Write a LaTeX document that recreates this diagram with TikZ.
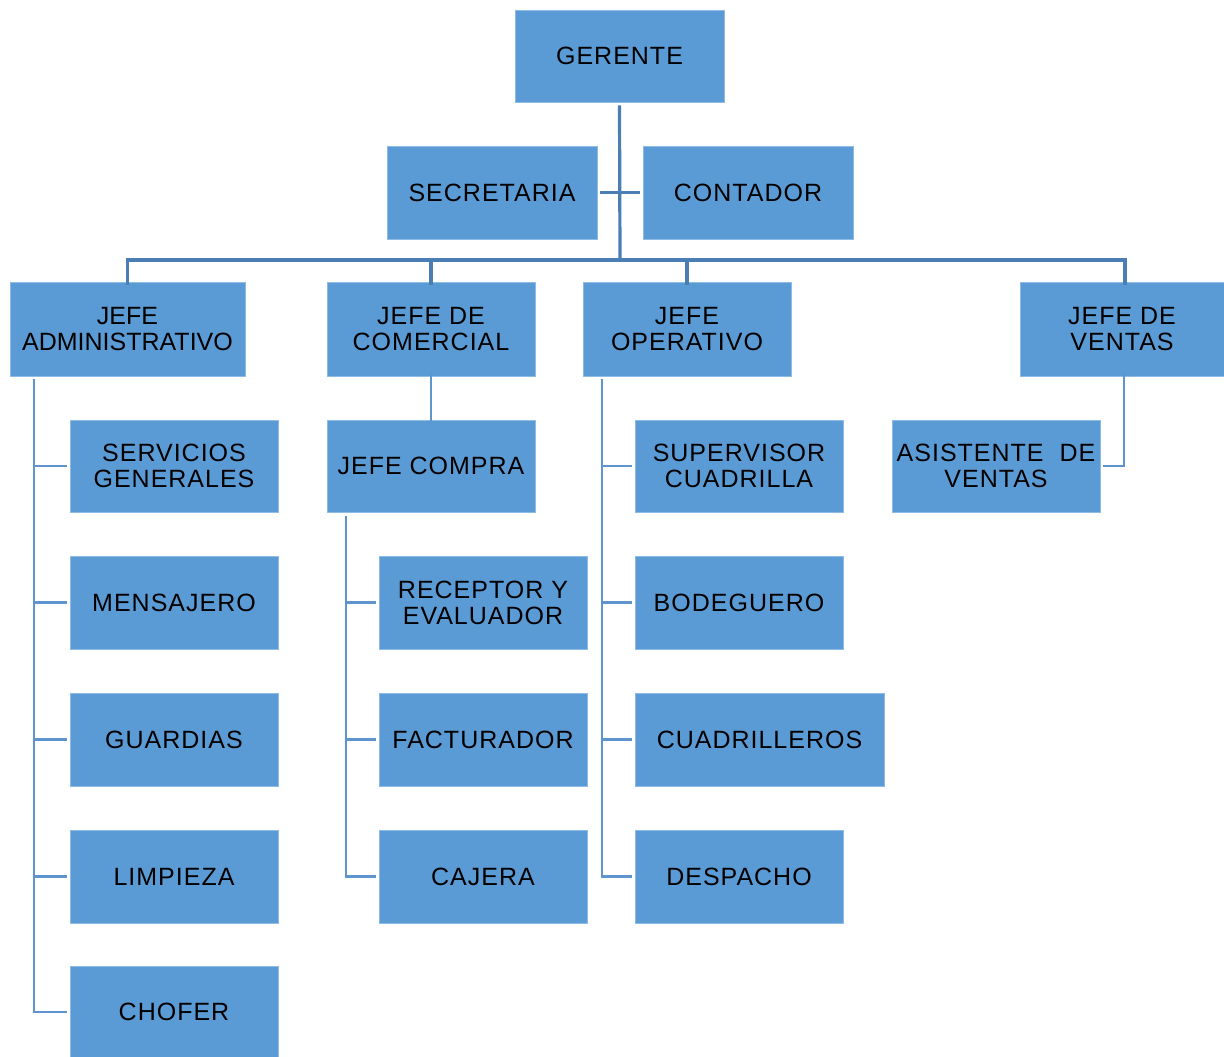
\documentclass[tikz,border=0pt]{standalone}
\usepackage{fontspec}
\setmainfont[LetterSpace=4]{Liberation Sans}
\newfontfamily\tightfont{Liberation Sans}
\definecolor{boxfill}{HTML}{5B9BD5}
\definecolor{boxedge}{HTML}{8FBCE6}
\definecolor{lineA}{HTML}{4A7EB5}
\definecolor{lineB}{HTML}{5F95CF}
\tikzset{
  box/.style={fill=boxfill, draw=boxedge, line width=0.8pt, inner sep=0pt, align=center,
              font=\fontsize{25}{26}\selectfont, text=black},
  conA/.style={draw=lineA, line width=3.2pt},
  conB/.style={draw=lineB, line width=2.8pt},
}
\begin{document}
\begin{tikzpicture}[x=1pt,y=-1pt]
\useasboundingbox (0,0) rectangle (1224,1057);
% top
\node[box, minimum width=209pt, minimum height=92pt] (ger) at (619.5,56) {GERENTE};
\node[box, minimum width=210pt, minimum height=93pt] (sec) at (492,192.5) {SECRETARIA};
\node[box, minimum width=210pt, minimum height=93pt] (con) at (748,192.5) {CONTADOR};
% row 2
\node[box, minimum width=235pt, minimum height=94pt, font=\tightfont\fontsize{25}{26}\selectfont] (adm) at (127.5,329) {JEFE\\ADMINISTRATIVO};
\node[box, minimum width=208pt, minimum height=94pt] (com) at (431,329) {JEFE DE\\COMERCIAL};
\node[box, minimum width=208pt, minimum height=94pt] (ope) at (687,329) {JEFE\\OPERATIVO};
\node[box, minimum width=204pt, minimum height=94pt] (ven) at (1122,329) {JEFE DE\\VENTAS};
% admin children
\node[box, minimum width=208pt, minimum height=92pt] (a1) at (174,466) {SERVICIOS\\GENERALES};
\node[box, minimum width=208pt, minimum height=93pt] (a2) at (174,602.5) {MENSAJERO};
\node[box, minimum width=208pt, minimum height=93pt] (a3) at (174,739.5) {GUARDIAS};
\node[box, minimum width=208pt, minimum height=93pt] (a4) at (174,876.5) {LIMPIEZA};
\node[box, minimum width=208pt, minimum height=92pt] (a5) at (174,1012) {CHOFER};
% comercial
\node[box, minimum width=208pt, minimum height=92pt] (cmp) at (431,466) {JEFE COMPRA};
\node[box, minimum width=208pt, minimum height=93pt] (c1) at (483,602.5) {RECEPTOR Y\\EVALUADOR};
\node[box, minimum width=208pt, minimum height=93pt] (c2) at (483,739.5) {FACTURADOR};
\node[box, minimum width=208pt, minimum height=93pt] (c3) at (483,876.5) {CAJERA};
% operativo
\node[box, minimum width=208pt, minimum height=92pt] (o1) at (739,466) {SUPERVISOR\\CUADRILLA};
\node[box, minimum width=208pt, minimum height=93pt] (o2) at (739,602.5) {BODEGUERO};
\node[box, minimum width=249pt, minimum height=93pt] (o3) at (759.5,739.5) {CUADRILLEROS};
\node[box, minimum width=208pt, minimum height=93pt] (o4) at (739,876.5) {DESPACHO};
% ventas
\node[box, minimum width=208pt, minimum height=92pt] (v1) at (996,466) {ASISTENTE~~DE\\VENTAS};
% coordinates
\coordinate (bar) at (620,260);
\coordinate (aL) at (34,379);
\coordinate (cL) at (346,516);
\coordinate (oL) at (602,379);
% connectors top
\draw[conA] ([yshift=-3pt]ger.south) -- (bar);
\draw[conA] ([xshift=3pt]sec.east) -- ([xshift=-3pt]con.west);
\draw[conA] ([yshift=-3pt]adm.north) |- (bar) -| ([xshift=3pt,yshift=-3pt]ven.north);
\draw[conA] ([yshift=-3pt]com.north) -- (com.north |- bar);
\draw[conA] ([yshift=-3pt]ope.north) -- (ope.north |- bar);
% admin
\draw[conB] (aL) |- ([xshift=-3pt]a5.west);
\foreach \n in {a1,a2,a3,a4} \draw[conB] (aL |- \n.west) -- ([xshift=-3pt]\n.west);
% comercial
\draw[conB] ([yshift=3pt]com.south) -- ([yshift=-3pt]cmp.north);
\draw[conB] (cL) |- ([xshift=-3pt]c3.west);
\foreach \n in {c1,c2} \draw[conB] (cL |- \n.west) -- ([xshift=-3pt]\n.west);
% operativo
\draw[conB] (oL) |- ([xshift=-3pt]o4.west);
\foreach \n in {o1,o2,o3} \draw[conB] (oL |- \n.west) -- ([xshift=-3pt]\n.west);
% ventas
\draw[conB] ([xshift=2pt,yshift=3pt]ven.south) |- ([xshift=3pt]v1.east);
\end{tikzpicture}
\end{document}
